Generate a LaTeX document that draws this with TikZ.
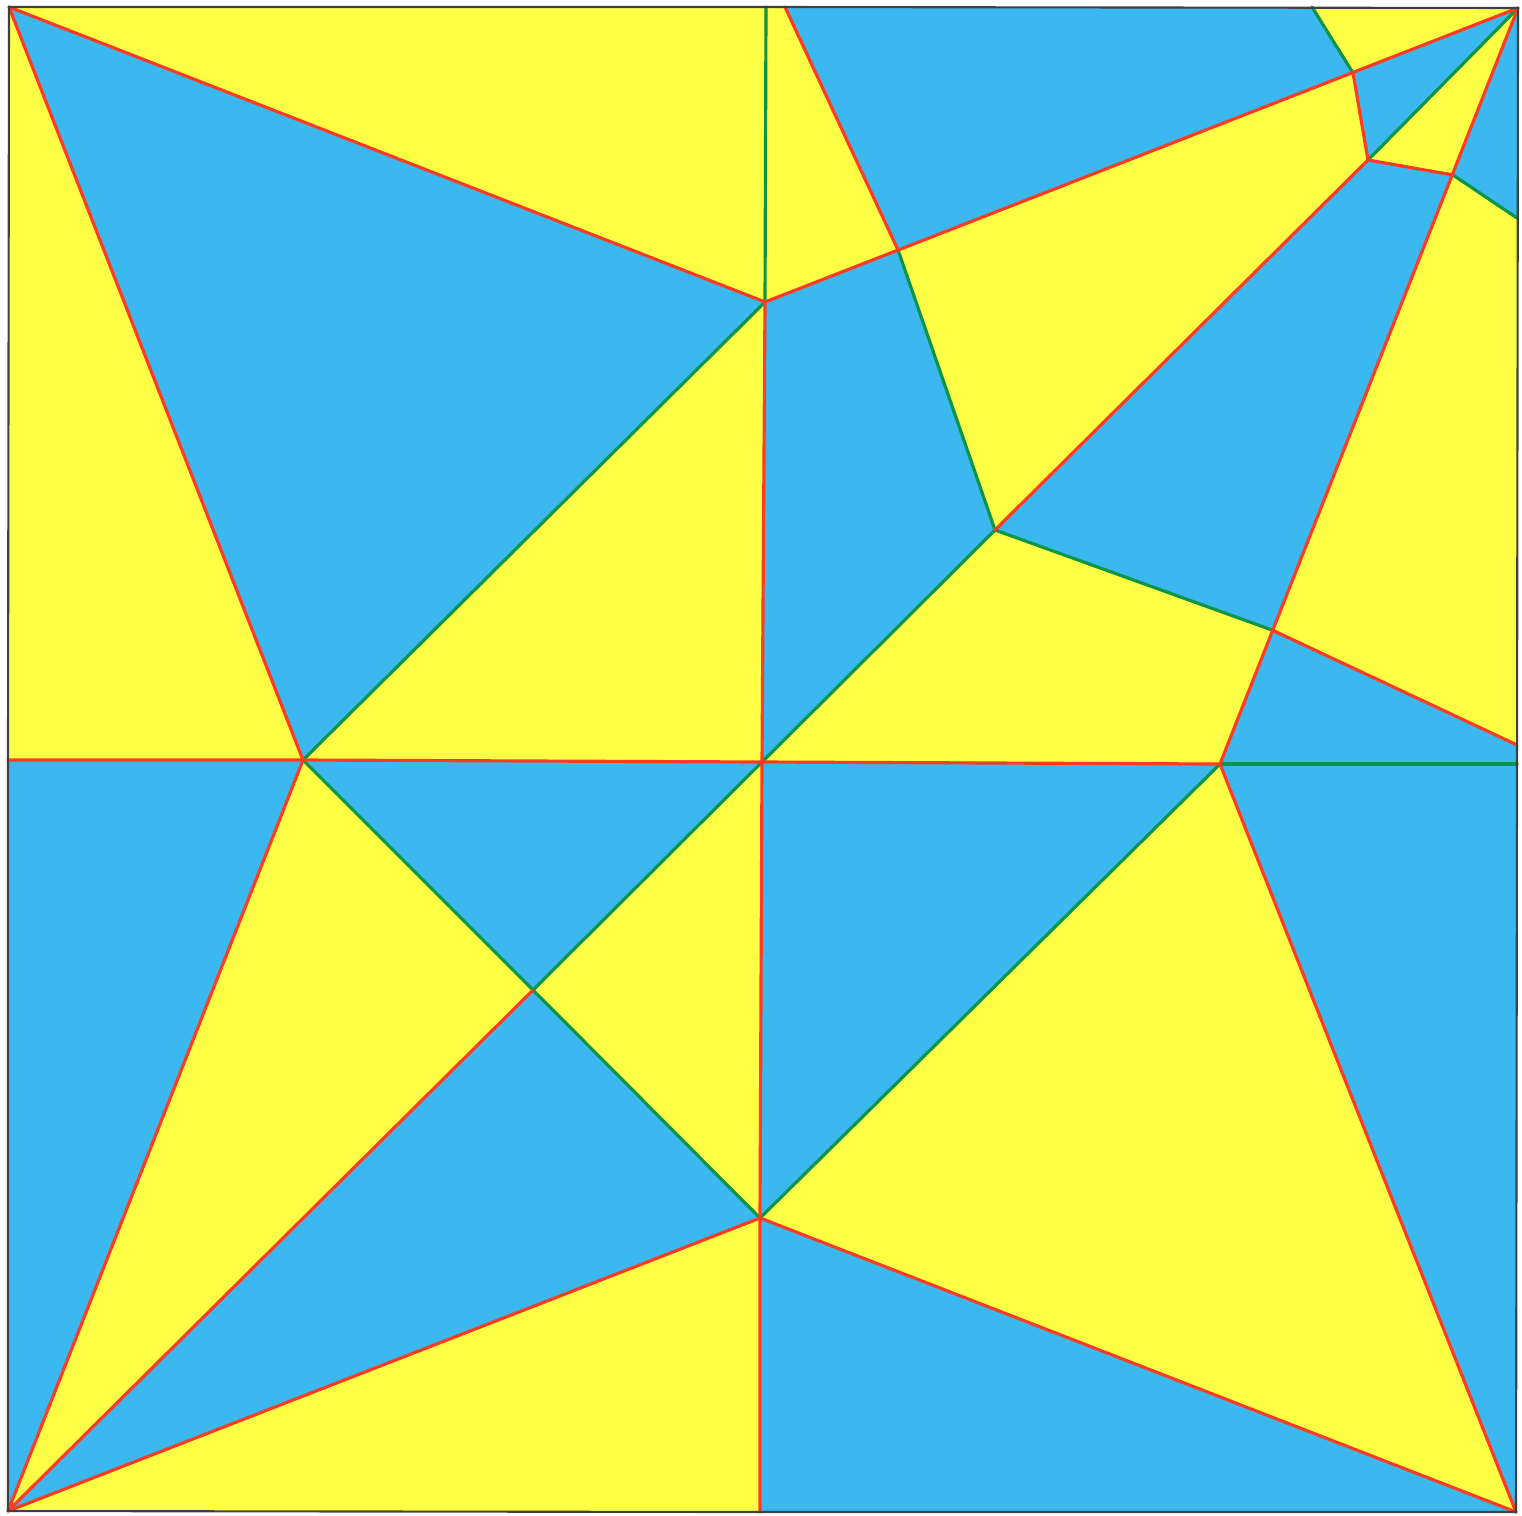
\documentclass[tikz,border=0pt]{standalone}
\usepackage{tikz}
\definecolor{paperyellow}{RGB}{255,255,70}
\definecolor{paperblue}{RGB}{60,184,240}
\definecolor{foldred}{RGB}{255,60,35}
\definecolor{foldgreen}{RGB}{10,150,70}

\begin{document}
\begin{tikzpicture}[x=0.01cm, y=-0.01cm,
        yface/.style={fill=paperyellow},
        bface/.style={fill=paperblue},
        redline/.style={draw=foldred, line width=0.9pt, line cap=round},
        greenline/.style={draw=foldgreen, line width=0.9pt, line cap=round},
        frame/.style={draw=black!75, line width=0.6pt},
      ]
      \useasboundingbox (0,0) rectangle (1522,1515);
      % corners and edge points
      \coordinate (A) at (9,7);
      \coordinate (B) at (1518,8);
      \coordinate (C) at (8,1511);
      \coordinate (D) at (1516,1512);
      \coordinate (T) at (766,7);
      \coordinate (E) at (785,7);
      \coordinate (Tg) at (1312,7);
      \coordinate (L) at (8,760);
      \coordinate (R) at (1517,764);
      \coordinate (Ri) at (1517,218);
      \coordinate (Rj) at (1517,745);
      \coordinate (Bm) at (760,1512);
      % inner points
      \coordinate (O) at (762,762);
      \coordinate (P1) at (303,760);
      \coordinate (P2) at (765,302);
      \coordinate (P3) at (1220,764);
      \coordinate (P4) at (760,1218);
      \coordinate (Q) at (533,990);
      \coordinate (F) at (898,250);
      \coordinate (G) at (1353,73);
      \coordinate (H) at (1368,160);
      \coordinate (I) at (1453,175);
      \coordinate (J) at (1272,630);
      \coordinate (K) at (995,530);

      % faces, upper left
      \fill [yface] (A) -- (L) -- (P1) -- cycle;
      \fill [bface] (A) -- (P1) -- (P2) -- cycle;
      \fill [yface] (A) -- (T) -- (P2) -- cycle;
      \fill [yface] (P1) -- (P2) -- (O) -- cycle;
      % faces, upper right
      \fill [yface] (T) -- (E) -- (F) -- (P2) -- cycle;
      \fill [bface] (E) -- (Tg) -- (G) -- (F) -- cycle;
      \fill [yface] (Tg) -- (B) -- (G) -- cycle;
      \fill [bface] (G) -- (B) -- (H) -- cycle;
      \fill [yface] (H) -- (B) -- (I) -- cycle;
      \fill [bface] (B) -- (Ri) -- (I) -- cycle;
      \fill [yface] (F) -- (G) -- (H) -- (K) -- cycle;
      \fill [bface] (P2) -- (F) -- (K) -- (O) -- cycle;
      \fill [bface] (K) -- (H) -- (I) -- (J) -- cycle;
      \fill [yface] (I) -- (Ri) -- (Rj) -- (J) -- cycle;
      \fill [yface] (O) -- (K) -- (J) -- (P3) -- cycle;
      \fill [bface] (J) -- (Rj) -- (R) -- (P3) -- cycle;
      % faces, lower left
      \fill [bface] (L) -- (P1) -- (C) -- cycle;
      \fill [yface] (P1) -- (Q) -- (C) -- cycle;
      \fill [bface] (P1) -- (O) -- (Q) -- cycle;
      \fill [yface] (O) -- (P4) -- (Q) -- cycle;
      \fill [bface] (Q) -- (P4) -- (C) -- cycle;
      \fill [yface] (C) -- (P4) -- (Bm) -- cycle;
      % faces, lower right
      \fill [bface] (O) -- (P3) -- (P4) -- cycle;
      \fill [yface] (P4) -- (P3) -- (D) -- cycle;
      \fill [bface] (P3) -- (R) -- (D) -- cycle;
      \fill [bface] (P4) -- (D) -- (Bm) -- cycle;

      % green folds
      \draw [greenline] (T) -- (P2);
      \draw [greenline] (P1) -- (P2);
      \draw [greenline] (P1) -- (Q) -- (P4);
      \draw [greenline] (O) -- (Q);
      \draw [greenline] (P4) -- (P3);
      \draw [greenline] (O) -- (K);
      \draw [greenline] (H) -- (B);
      \draw [greenline] (F) -- (K) -- (J);
      \draw [greenline] (G) -- (Tg);
      \draw [greenline] (I) -- (Ri);
      \draw [greenline] (P3) -- (R);
      % red folds
      \draw [redline] (A) -- (P2);
      \draw [redline] (A) -- (P1);
      \draw [redline] (L) -- (P1) -- (O) -- (P3);
      \draw [redline] (P2) -- (O) -- (P4) -- (Bm);
      \draw [redline] (P1) -- (C);
      \draw [redline] (Q) -- (C);
      \draw [redline] (P4) -- (C);
      \draw [redline] (P4) -- (D);
      \draw [redline] (P3) -- (D);
      \draw [redline] (E) -- (F);
      \draw [redline] (P2) -- (B);
      \draw [redline] (G) -- (H) -- (I);
      \draw [redline] (K) -- (H);
      \draw [redline] (B) -- (P3);
      \draw [redline] (J) -- (Rj);

      % paper edge
      \draw [frame] (A) -- (T) -- (B) -- (R) -- (D) -- (Bm) -- (C) -- (L) -- cycle;
    \end{tikzpicture}
\end{document}
